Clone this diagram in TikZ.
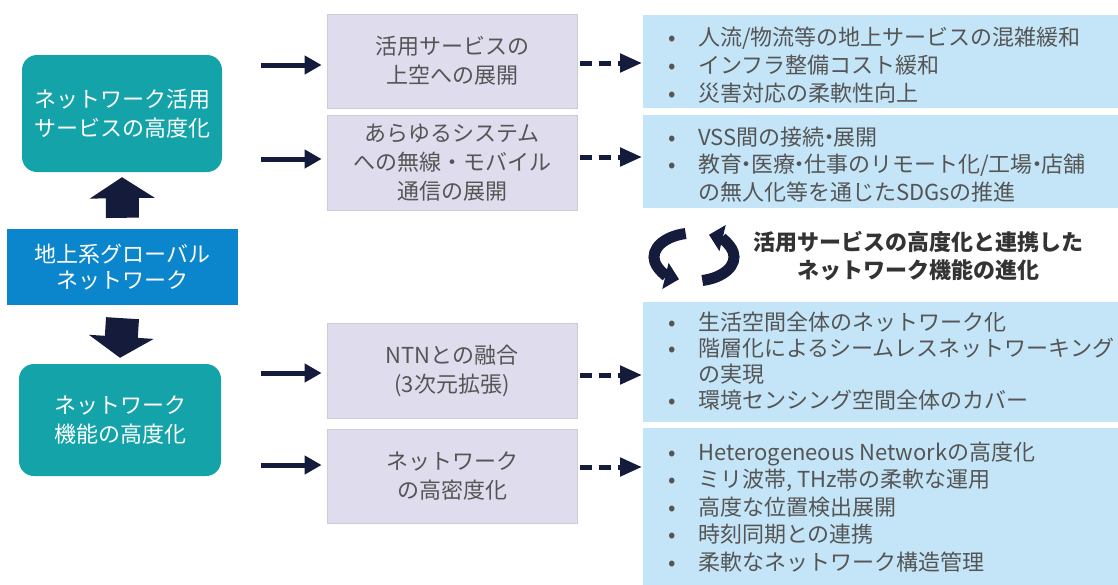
\documentclass[tikz,border=0pt]{standalone}
\usepackage{fontspec}
\setmainfont{Noto Sans CJK JP}
\usetikzlibrary{arrows.meta,calc}
\definecolor{tealbox}{HTML}{14A3A9}
\definecolor{globblue}{HTML}{0B86CC}
\definecolor{navy}{HTML}{141B3B}
\definecolor{lav}{HTML}{DFDDED}
\definecolor{lavline}{HTML}{CDCCD6}
\definecolor{lblue}{HTML}{C4E5F7}
\definecolor{txtgrey}{HTML}{555555}
\definecolor{txtdark}{HTML}{333333}
\newcommand{\bl}[1]{\makebox[38pt][l]{\makebox[24pt]{•}}#1}
\newcommand{\cont}[1]{\hspace*{38pt}#1}
\newcommand{\nd}{\makebox[9pt][c]{・}}
\begin{document}
\begin{tikzpicture}[x=1pt,y=-1pt,
  tealnode/.style={fill=tealbox, rounded corners=15pt, text=white, align=center,
     font=\fontsize{22}{29}\selectfont, inner sep=0pt},
  globnode/.style={fill=globblue, text=white, align=center,
     font=\fontsize{22}{26}\selectfont, inner sep=0pt},
  greybox/.style={fill=lav, draw=lavline, line width=0.8pt, text=txtgrey, align=center,
     font=\fontsize{22}{29}\selectfont, inner sep=0pt, minimum width=250pt},
  bluebox/.style={fill=lblue, inner sep=0pt, minimum width=475pt},
  listnode/.style={anchor=west, align=left, text=txtgrey, inner sep=0pt},
  blockarrow/.style={navy, line width=33pt, -{Triangle[length=21pt,width=64pt]}},
  solidarrow/.style={navy, line width=5pt, -{Triangle[length=17pt,width=18pt]}},
  dasharrow/.style={navy, line width=5pt, dash pattern=on 12pt off 7pt, -{Triangle[length=22pt,width=18pt]}},
  cyc/.style={navy, line width=11pt, -{Triangle[length=14pt,width=26pt]}}
]
\useasboundingbox (0,0) rectangle (1118,584);

% left column
\node[tealnode, minimum width=200pt, minimum height=117pt] (t1) at (122,113.5)
  {ネットワーク活用\\サービスの高度化};
\node[globnode, minimum width=231pt, minimum height=76pt] (glob) at (122.5,267)
  {地上系グローバル\\ネットワーク};
\node[tealnode, minimum width=202pt, minimum height=112pt] (t2) at (120,420)
  {ネットワーク\\機能の高度化};

\draw[blockarrow] ($(glob.north)+(0,-11)$) -- ($(t1.south)+(0,5)$);
\draw[blockarrow] ($(glob.south)+(0,13)$) -- ($(t2.north)+(0,-6)$);

% middle column
\node[greybox, minimum height=94pt] (g1) at (452,61) {活用サービスの\\上空への展開};
\node[greybox, minimum height=95pt] (g2) at (452,162.5) {あらゆるシステム\\への無線・モバイル\\通信の展開};
\node[greybox, minimum height=95pt] (g3) at (452,370.5) {NTNとの融合\\(3次元拡張)};
\node[greybox, minimum height=94pt] (g4) at (452,476) {ネットワーク\\の高密度化};

% right column
\node[bluebox, anchor=north west, minimum height=93pt] (b1) at (643,15) {};
\node[bluebox, anchor=north west, minimum height=93pt] (b2) at (643,115) {};
\node[bluebox, anchor=north west, minimum height=120pt] (b3) at (643,302) {};
\node[bluebox, anchor=north west, minimum height=160pt] (b4) at (643,428) {};

\node[listnode, font=\fontsize{22}{28}\selectfont] (l1) at (660,65)
  {\bl{人流/物流等の地上サービスの混雑緩和}\\\bl{インフラ整備コスト緩和}\\\bl{災害対応の柔軟性向上}};
\node[listnode, font=\fontsize{22}{27.5}\selectfont] (l2) at (660,164.5)
  {\bl{VSS間の接続\nd 展開}\\\bl{教育\nd 医療\nd 仕事のリモート化/工場\nd 店舗}\\\cont{の無人化等を通じたSDGsの推進}};
\node[listnode, font=\fontsize{22}{26}\selectfont] (l3) at (660,361)
  {\bl{生活空間全体のネットワーク化}\\\bl{階層化によるシームレスネットワーキング}\\\cont{の実現}\\\bl{環境センシング空間全体のカバー}};
\node[listnode, font=\fontsize{22}{27.5}\selectfont] (l4) at (660,507)
  {\bl{Heterogeneous Networkの高度化}\\\bl{ミリ波帯, THz帯の柔軟な運用}\\\bl{高度な位置検出展開}\\\bl{時刻同期との連携}\\\bl{柔軟なネットワーク構造管理}};

% solid arrows
\coordinate (s1) at (261,65);
\coordinate (s2) at (261,159);
\coordinate (s3) at (261,373);
\coordinate (s4) at (261,465);
\draw[solidarrow, shorten >=5pt] (s1) -- (s1 -| g1.west);
\draw[solidarrow, shorten >=5pt] (s2) -- (s2 -| g2.west);
\draw[solidarrow, shorten >=5pt] (s3) -- (s3 -| g3.west);
\draw[solidarrow, shorten >=5pt] (s4) -- (s4 -| g4.west);

% dashed arrows
\coordinate (d1) at (600,63);
\coordinate (d2) at (600,157);
\coordinate (d3) at (600,375);
\coordinate (d4) at (600,467);
\draw[dasharrow, shorten <=3pt, shorten >=1pt] (d1 -| g1.east) -- (d1 -| b1.west);
\draw[dasharrow, shorten <=3pt, shorten >=1pt] (d2 -| g2.east) -- (d2 -| b2.west);
\draw[dasharrow, shorten <=3pt, shorten >=1pt] (d3 -| g3.east) -- (d3 -| b3.west);
\draw[dasharrow, shorten <=3pt, shorten >=1pt] (d4 -| g4.east) -- (d4 -| b4.west);

% cycle icon
\coordinate (cc) at (694,257);
\draw[cyc] ($(cc)+(258:40 and 24)$) arc[start angle=258, end angle=112, x radius=40, y radius=24];
\draw[cyc] ($(cc)+(78:40 and 24)$) arc[start angle=78, end angle=-68, x radius=40, y radius=24];
\node[text=txtdark, font=\fontsize{22}{28}\selectfont\bfseries, align=center, inner sep=0pt] (cyctext) at (918,256)
  {活用サービスの高度化と連携した\\ネットワーク機能の進化};
\end{tikzpicture}
\end{document}
